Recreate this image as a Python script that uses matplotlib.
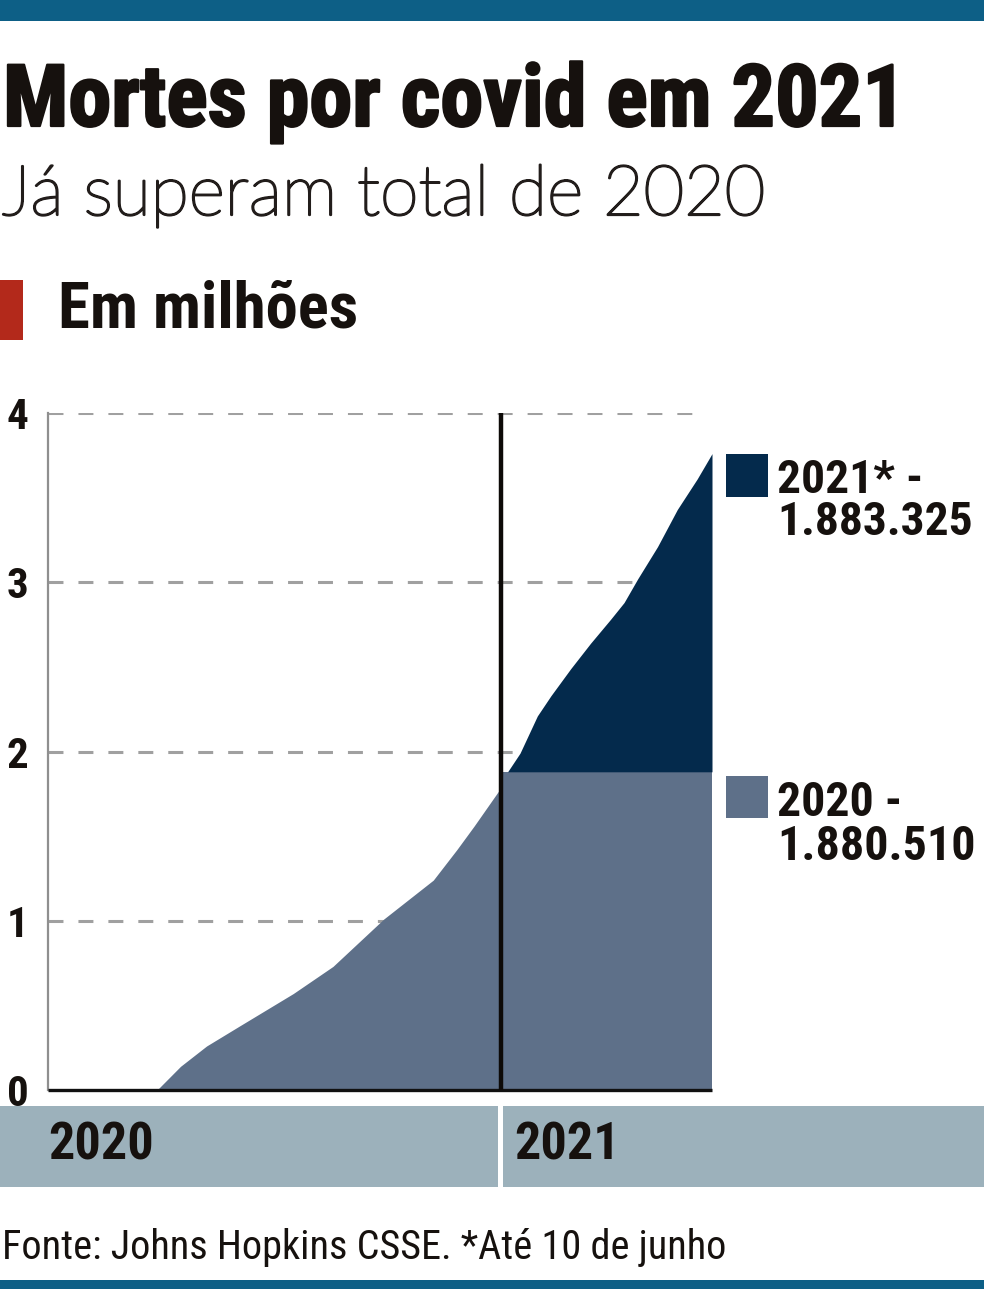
import matplotlib
matplotlib.use("Agg")
import matplotlib.pyplot as plt
from matplotlib.patches import Rectangle
from matplotlib import font_manager as fm
import matplotlib.patheffects as pe

# ---------------- data ----------------
title = "Mortes por covid em 2021"
subtitle = "Já superam total de 2020"
unit_label = "Em milhões"
source = "Fonte: Johns Hopkins CSSE. *Até 10 de junho"
year_labels = ["2020", "2021"]
yticks = [0, 1, 2, 3, 4]

# days since 1 Jan 2020, cumulative deaths (millions)
days_2020 = [0, 88, 107, 128, 155, 198, 230, 271, 311, 330, 344, 366]
deaths_2020 = [0, 0, 0.14, 0.26, 0.38, 0.57, 0.73, 1.01, 1.24, 1.42, 1.56, 1.79]
total_2020 = 1.88  # 1.880.510

days_2021 = [366, 371, 381, 395, 406, 422, 438, 454, 465, 476, 492, 508, 524, 536]
deaths_2021 = [1.88, 1.88, 1.99, 2.21, 2.33, 2.49, 2.64, 2.78, 2.88, 3.02, 3.21, 3.43, 3.61, 3.76]

legend_labels = ["2021* -\n1.883.325", "2020 -\n1.880.510"]

# ---------------- style ----------------
C_TOP = "#0d5f86"
C_DARK = "#042a4c"
C_LIGHT = "#5e7089"
C_BAND = "#9cb1bb"
C_RED = "#b3291b"
C_TXT = "#16110e"
C_GRID = "#a0a0a0"

W, H = 984, 1289
fig = plt.figure(figsize=(W / 100, H / 100), dpi=100)
fig.patch.set_facecolor("white")

names = {f.name for f in fm.fontManager.ttflist}


def pick(cands):
    for c in cands:
        if c in names:
            return c
    return "DejaVu Sans"


COND = pick(["Roboto Condensed", "Open Sans Condensed", "Liberation Sans Narrow",
             "DejaVu Sans Condensed", "DejaVu Sans"])
LIGHTF = pick(["Lato", "Open Sans", "Roboto", "DejaVu Sans"])
COND_KW = dict(family=COND)
if COND == "DejaVu Sans":
    COND_KW["fontstretch"] = "condensed"

renderer = fig.canvas.get_renderer()


def fx(px):
    return px / W


def fy(py):
    return 1 - py / H


def fit_text(x, y, s, width, size0=30, **kw):
    t = fig.text(fx(x), fy(y), s, fontsize=size0, **kw)
    bb = t.get_window_extent(renderer=renderer)
    t.set_fontsize(size0 * width / bb.width)
    return t


# top / bottom bars
fig.add_artist(Rectangle((0, fy(21)), 1, 21 / H, transform=fig.transFigure,
                         facecolor=C_TOP, edgecolor="none"))
fig.add_artist(Rectangle((0, 0), 1, 9 / H, transform=fig.transFigure,
                         facecolor=C_TOP, edgecolor="none"))

# titles
fit_text(3, 126, title, 904, fontweight="heavy", color=C_TXT,
         va="baseline", ha="left",
         path_effects=[pe.withStroke(linewidth=1.6, foreground=C_TXT)], **COND_KW)
fit_text(2, 215, subtitle, 763, family=LIGHTF, fontweight="light", color="#221d1b",
         va="baseline", ha="left",
         path_effects=[pe.withStroke(linewidth=1.6, foreground="#221d1b")])
fig.add_artist(Rectangle((0, fy(340)), fx(23), 60 / H, transform=fig.transFigure,
                         facecolor=C_RED, edgecolor="none"))
fit_text(58, 327, unit_label, 300, fontweight="bold", color=C_TXT,
         va="baseline", ha="left", **COND_KW)

# ---------------- chart axes ----------------
x0, x1 = 48, 712
y_top, y_bot = 413, 1090
ax = fig.add_axes([fx(x0), fy(y_bot), (x1 - x0) / W, (y_bot - y_top) / H])
ax.set_xlim(0, days_2021[-1])
ax.set_ylim(0, 4)
ax.set_facecolor("none")
for sp in ["top", "right", "bottom"]:
    ax.spines[sp].set_visible(False)
ax.spines["left"].set_color("#8f8f8f")
ax.spines["left"].set_linewidth(1.6)
ax.set_xticks([])
ax.set_yticks(yticks)
ax.set_yticklabels([str(v) for v in yticks], fontsize=31, fontweight="bold",
                   color=C_TXT, **COND_KW)
ax.tick_params(axis="y", length=0, pad=14)

# grid (behind area)
grid_end = days_2021[-1] * (700 - x0) / (x1 - x0)
for v in yticks[1:]:
    ax.plot([0, grid_end], [v, v], color=C_GRID, lw=2.2, ls=(0, (4.9, 4.9)), zorder=1)

# 2020 area
ax.fill_between(days_2020, 0, deaths_2020, color=C_LIGHT, lw=0, zorder=2)
# 2021 areas
ax.fill_between(days_2021, 0, [total_2020] * len(days_2021), color=C_LIGHT, lw=0, zorder=2)
ax.fill_between(days_2021, total_2020, deaths_2021, color=C_DARK, lw=0, zorder=2)

# baseline and year divider
ax.plot([0, days_2021[-1]], [0, 0], color="#111111", lw=2.4, zorder=4, clip_on=False,
        solid_capstyle="butt")
ax.plot([days_2021[0], days_2021[0]], [0, 4], color="#0d0a08", lw=3.2, zorder=4,
        clip_on=False, solid_capstyle="butt")

# ---------------- year band ----------------
band_top, band_bot = 1106, 1187
fig.add_artist(Rectangle((0, fy(band_bot)), fx(498), (band_bot - band_top) / H,
                         transform=fig.transFigure, facecolor=C_BAND, edgecolor="none"))
fig.add_artist(Rectangle((fx(503), fy(band_bot)), 1 - fx(503), (band_bot - band_top) / H,
                         transform=fig.transFigure, facecolor=C_BAND, edgecolor="none"))
t20 = fit_text(48, 1159, year_labels[0], 106, fontweight="bold", color=C_TXT,
               va="baseline", ha="left", **COND_KW)
fig.text(fx(514), fy(1159), year_labels[1], fontsize=t20.get_fontsize(), fontweight="bold",
         color=C_TXT, va="baseline", ha="left", **COND_KW)

# ---------------- legend ----------------
fig.add_artist(Rectangle((fx(726), fy(497)), 42 / W, 43 / H, transform=fig.transFigure,
                         facecolor=C_DARK, edgecolor="none"))
fig.add_artist(Rectangle((fx(726), fy(818)), 42 / W, 42 / H, transform=fig.transFigure,
                         facecolor=C_LIGHT, edgecolor="none"))
fit_text(777, 458, legend_labels[0], 196, fontweight="bold", color=C_TXT,
         va="top", ha="left", linespacing=0.95, **COND_KW)
fit_text(777, 780, legend_labels[1], 198, fontweight="bold", color=C_TXT,
         va="top", ha="left", linespacing=0.95, **COND_KW)

# footer
fit_text(2, 1259, source, 724, color=C_TXT, va="baseline", ha="left", **COND_KW)

fig.savefig("out.png", dpi=100, facecolor="white")
